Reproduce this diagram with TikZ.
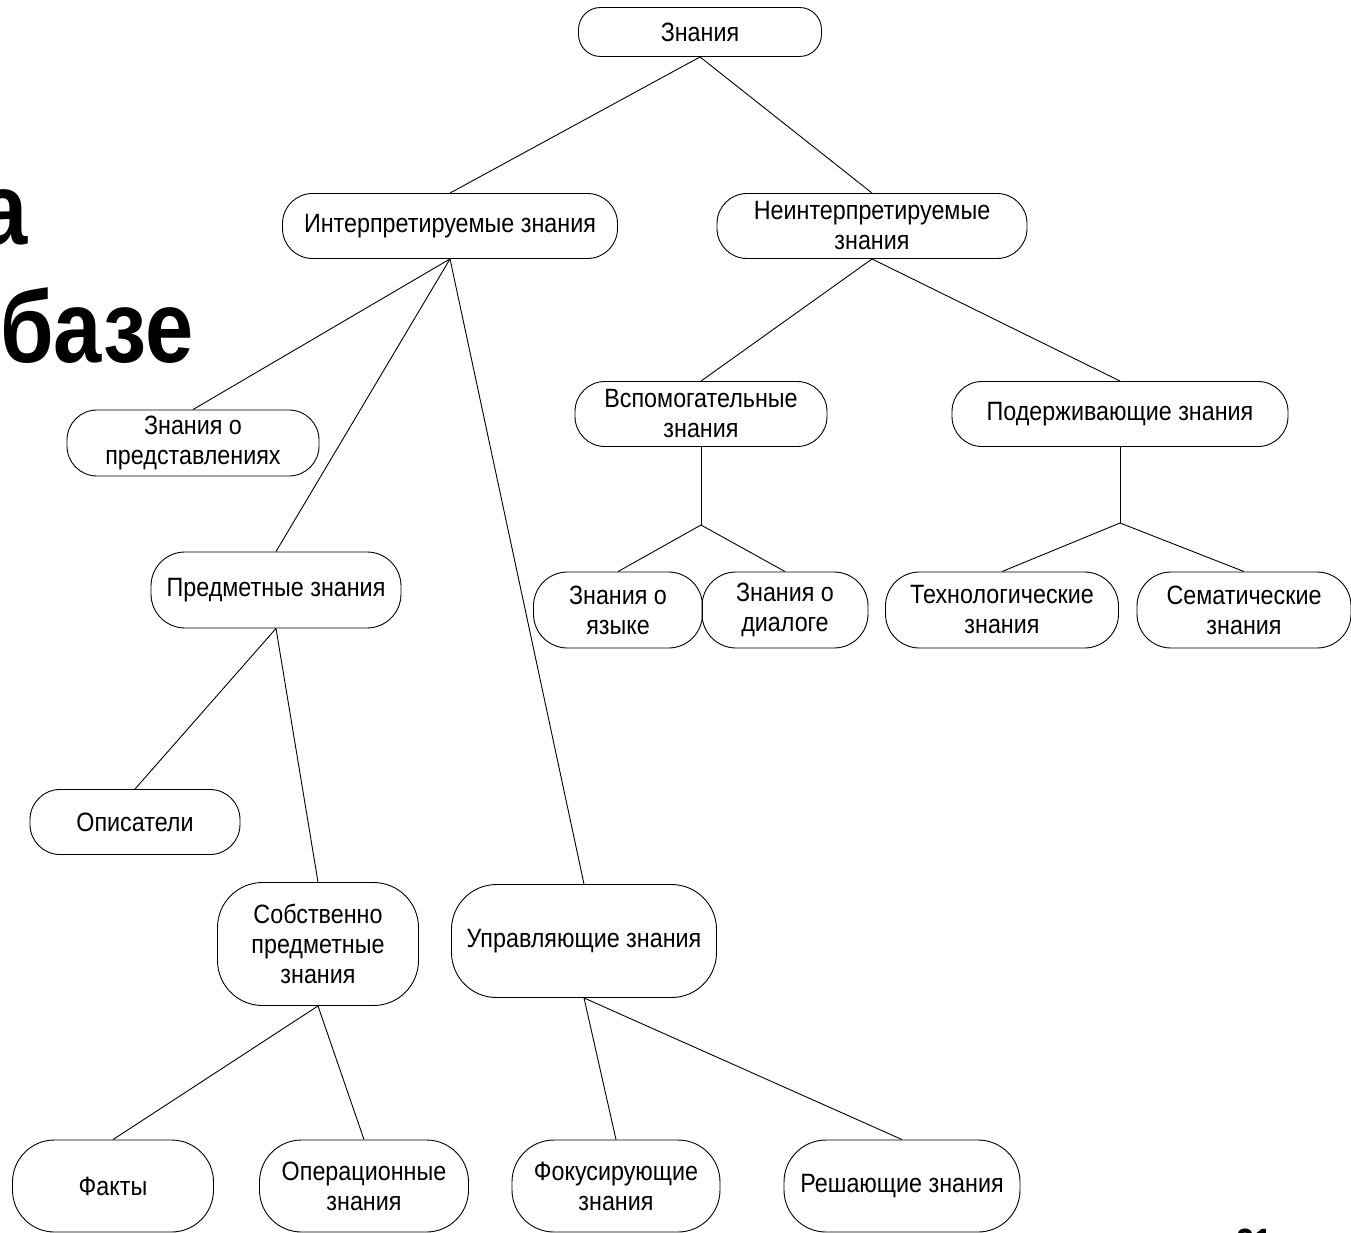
\documentclass[tikz,border=0pt]{standalone}
\usepackage{fontspec}
\setmainfont{Liberation Sans}
\newfontfamily\knfont{Liberation Sans}[FakeStretch=0.88]
\newfontfamily\bigfont{Liberation Sans}[FakeStretch=0.85]
\begin{document}
\begin{tikzpicture}[x=1pt,y=-1pt,
  kn/.style={draw=black, line width=0.9pt, rounded corners=30pt, align=center,
    inner sep=0pt, font=\knfont\fontsize{26.5}{30}\selectfont},
  link/.style={draw=black, line width=0.9pt},
  big/.style={font=\bigfont\fontsize{102}{110}\selectfont\bfseries, inner sep=0pt}]
\useasboundingbox (0,0) rectangle (1351,1233);
\clip (0,0) rectangle (1351,1233);
\fill[white] (0,0) rectangle (1351,1233);
% partial slide title
\node[big, anchor=base east] (ta) at (28,245) {а};
\node[big, anchor=base west] (tb) at (0,362) {базе};
\node[font=\bigfont\fontsize{38}{40}\selectfont\bfseries, inner sep=0pt, anchor=base west] (pn) at (1236,1255) {21};
% nodes
\node[kn, minimum width=243pt, minimum height=49pt, rounded corners=22pt] (z0) at (700,32) {Знания};
\node[kn, minimum width=335pt, minimum height=65pt] (interp) at (450,226) {Интерпретируемые знания};
\node[kn, minimum width=310pt, minimum height=65pt] (neint) at (872,226) {Неинтерпретируемые\\знания};
\node[kn, minimum width=252pt, minimum height=66pt] (zpred) at (193,443) {Знания о\\представлениях};
\node[kn, minimum width=252pt, minimum height=65pt] (vspom) at (701,414) {Вспомогательные\\знания};
\node[kn, minimum width=336pt, minimum height=65pt] (podd) at (1120,414) {Подерживающие знания};
\node[kn, minimum width=250pt, minimum height=76pt, rounded corners=34pt] (predm) at (276,590) {Предметные знания};
\node[kn, minimum width=169pt, minimum height=76pt, rounded corners=34pt] (yaz) at (618,610) {Знания о\\языке};
\node[kn, minimum width=166pt, minimum height=76pt, rounded corners=34pt] (dial) at (785,610) {Знания о\\диалоге};
\node[kn, minimum width=233pt, minimum height=76pt, rounded corners=34pt] (tech) at (1002,610) {Технологические\\знания};
\node[kn, minimum width=214pt, minimum height=76pt, rounded corners=34pt] (sem) at (1244,610) {Сематические\\знания};
\node[kn, minimum width=210pt, minimum height=65pt] (opis) at (135,822) {Описатели};
\node[kn, minimum width=201pt, minimum height=123pt, rounded corners=45pt] (sobst) at (318,944) {Собственно\\предметные\\знания};
\node[kn, minimum width=265pt, minimum height=113pt, rounded corners=45pt] (upr) at (584,941) {Управляющие знания};
\node[kn, minimum width=201pt, minimum height=92pt, rounded corners=42pt] (fakt) at (113,1186) {Факты};
\node[kn, minimum width=209pt, minimum height=92pt, rounded corners=42pt] (oper) at (364,1186) {Операционные\\знания};
\node[kn, minimum width=208pt, minimum height=92pt, rounded corners=42pt] (fokus) at (616,1186) {Фокусирующие\\знания};
\node[kn, minimum width=236pt, minimum height=92pt, rounded corners=42pt] (resh) at (902,1186) {Решающие знания};
\coordinate (j1) at (701,525);
\coordinate (j2) at (1120,523);
% connectors
\draw[link] (z0.south) -- (interp.north);
\draw[link] (z0.south) -- (neint.north);
\draw[link] (interp.south) -- (zpred.north);
\draw[link] (interp.south) -- (predm.north);
\draw[link] (interp.south) -- (upr.north);
\draw[link] (neint.south) -- (vspom.north);
\draw[link] (neint.south) -- (podd.north);
\draw[link] (vspom.south) -- (j1);
\draw[link] (j1) -- (yaz.north);
\draw[link] (j1) -- (dial.north);
\draw[link] (podd.south) -- (j2);
\draw[link] (j2) -- (tech.north);
\draw[link] (j2) -- (sem.north);
\draw[link] (predm.south) -- (opis.north);
\draw[link] (predm.south) -- (sobst.north);
\draw[link] (sobst.south) -- (fakt.north);
\draw[link] (sobst.south) -- (oper.north);
\draw[link] (upr.south) -- (fokus.north);
\draw[link] (upr.south) -- (resh.north);
\end{tikzpicture}
\end{document}
